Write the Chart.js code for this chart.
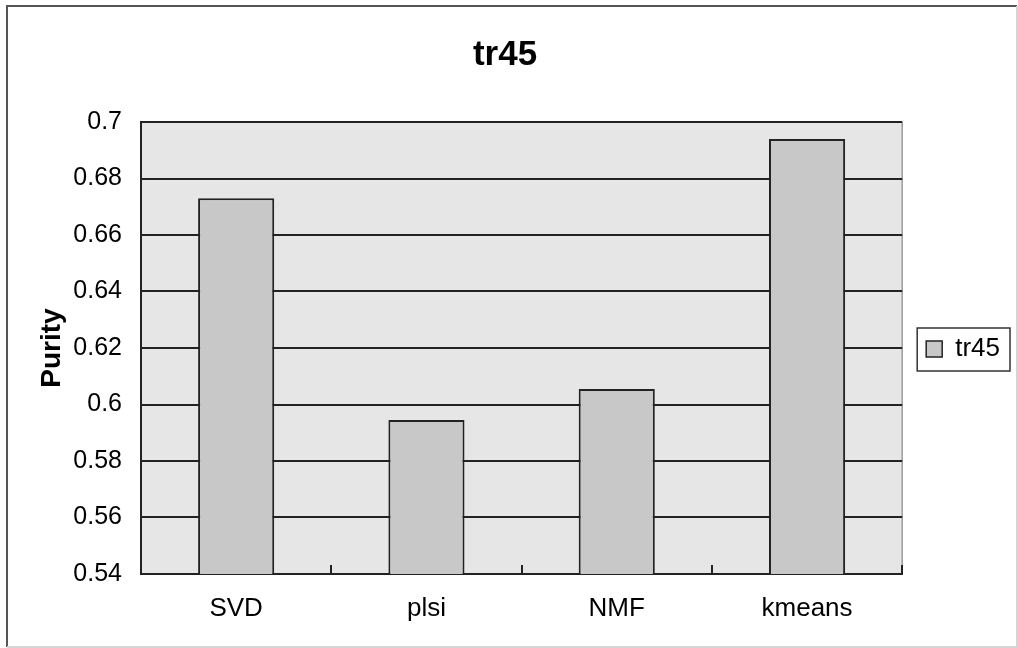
<!DOCTYPE html>
<html>
<head>
<meta charset="utf-8">
<title>tr45</title>
<script src="https://cdn.jsdelivr.net/npm/chart.js@4/dist/chart.umd.min.js"></script>
<style>
  html, body { margin: 0; padding: 0; background: #ffffff; }
  #wrap { width: 1018px; height: 648px; position: relative; }
</style>
</head>
<body>
<div id="wrap"><canvas id="chart" width="1018" height="648"></canvas></div>
<script>
// Purity scores on the tr45 dataset for each clustering method
const methods = ['SVD', 'plsi', 'NMF', 'kmeans'];
const purity = [0.673, 0.5945, 0.6055, 0.694];
const seriesName = 'tr45';
const yMin = 0.54;
const yMax = 0.70;
const yStep = 0.02;

const FONT = "'Liberation Sans', Arial, sans-serif";
const PLOT_BG = '#e6e6e6';
const BAR_FILL = '#c8c8c8';
const INK = '#222222';

// Grey plot area with a light right-hand edge
const plotBackground = {
  id: 'plotBackground',
  beforeDraw(chart) {
    const { ctx, chartArea: a } = chart;
    ctx.save();
    ctx.fillStyle = PLOT_BG;
    ctx.fillRect(a.left, a.top, a.right - a.left, a.bottom - a.top);
    ctx.strokeStyle = '#9a9a9a';
    ctx.lineWidth = 1.5;
    ctx.beginPath();
    ctx.moveTo(a.right, a.top);
    ctx.lineTo(a.right, a.bottom);
    ctx.stroke();
    ctx.restore();
  }
};

// Box around the legend entry and a frame around the whole chart
const frames = {
  id: 'frames',
  afterDraw(chart) {
    const { ctx, width, height } = chart;
    ctx.save();
    const hb = chart.legend && chart.legend.legendHitBoxes && chart.legend.legendHitBoxes[0];
    if (hb) {
      const cy = hb.top + hb.height / 2;
      ctx.strokeStyle = '#333333';
      ctx.lineWidth = 1.5;
      ctx.strokeRect(hb.left - 9, cy - 21, hb.width + 19, 43);
    }
    ctx.lineWidth = 2;
    ctx.strokeStyle = '#555555';
    ctx.beginPath();
    ctx.moveTo(7, height - 1);
    ctx.lineTo(7, 6);
    ctx.lineTo(width - 1, 6);
    ctx.stroke();
    ctx.strokeStyle = '#d4d4d4';
    ctx.beginPath();
    ctx.moveTo(width - 1, 6);
    ctx.lineTo(width - 1, height - 1);
    ctx.lineTo(7, height - 1);
    ctx.stroke();
    ctx.restore();
  }
};

new Chart(document.getElementById('chart'), {
  type: 'bar',
  data: {
    labels: methods,
    datasets: [{
      label: seriesName,
      data: purity,
      backgroundColor: BAR_FILL,
      borderColor: INK,
      borderWidth: 2,
      barPercentage: 0.4,
      categoryPercentage: 1.0
    }]
  },
  options: {
    responsive: false,
    animation: false,
    devicePixelRatio: 1,
    layout: { padding: { left: 0, right: 8, top: 0, bottom: 0 } },
    plugins: {
      title: {
        display: true,
        text: seriesName,
        color: '#000',
        font: { family: FONT, size: 35, weight: 'bold', lineHeight: 1.2 },
        padding: { top: 34, bottom: 46 }
      },
      legend: {
        display: true,
        position: 'right',
        title: {
          display: true,
          text: '',
          font: { family: FONT, size: 10, lineHeight: 1 },
          padding: { top: 40, bottom: 0 }
        },
        labels: {
          color: '#000',
          font: { family: FONT, size: 26 },
          boxWidth: 16,
          boxHeight: 16,
          padding: 24,
          generateLabels(chart) {
            const ds = chart.data.datasets[0];
            return [{
              text: ds.label,
              fillStyle: ds.backgroundColor,
              strokeStyle: INK,
              fontColor: '#000000',
              lineWidth: 1.5,
              hidden: false,
              datasetIndex: 0
            }];
          }
        }
      },
      tooltip: { enabled: false }
    },
    scales: {
      x: {
        offset: true,
        grid: {
          display: true,
          drawOnChartArea: false,
          drawTicks: true,
          tickLength: -9,
          color: INK,
          lineWidth: 2
        },
        border: { display: true, color: INK, width: 2 },
        ticks: {
          color: '#000',
          font: { family: FONT, size: 26 },
          padding: 28,
          maxRotation: 0
        },
        afterFit(scale) { scale.height = 74; }
      },
      y: {
        min: yMin,
        max: yMax,
        ticks: {
          stepSize: yStep,
          color: '#000',
          font: { family: FONT, size: 25 },
          padding: 19,
          callback: v => String(Number(v.toFixed(2)))
        },
        grid: {
          color: INK,
          lineWidth: 2,
          drawTicks: false
        },
        border: { display: true, color: INK, width: 2 },
        title: {
          display: true,
          text: 'Purity',
          color: '#000',
          font: { family: FONT, size: 28, weight: 'bold', lineHeight: 1.2 },
          padding: { top: 35, bottom: 0 }
        },
        afterFit(scale) { scale.width = 141; }
      }
    }
  },
  plugins: [plotBackground, frames]
});
</script>
</body>
</html>
